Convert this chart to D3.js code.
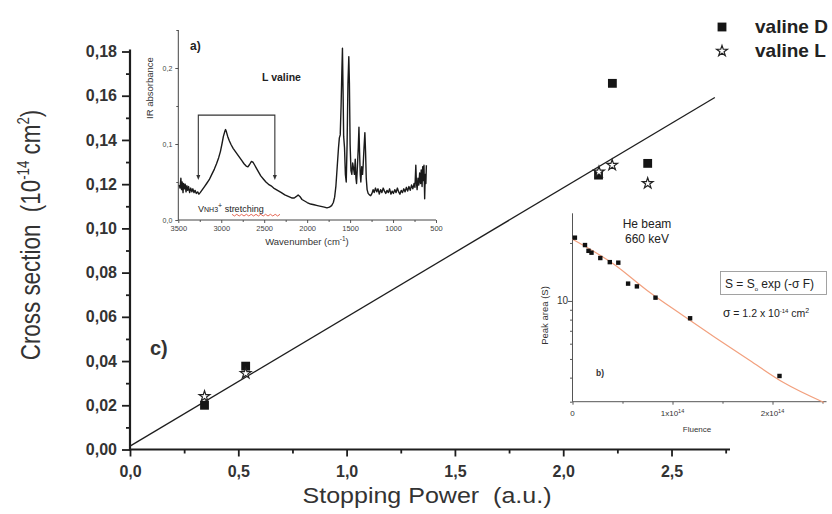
<!DOCTYPE html>
<html><head><meta charset="utf-8">
<script src="https://cdn.jsdelivr.net/npm/d3@7"></script>
<style>
html,body{margin:0;padding:0;background:#fff;}
svg{display:block;}
text{font-family:"Liberation Sans",Arial,Helvetica,sans-serif;}
</style></head><body>
<svg id="chart" width="832" height="514"></svg>
<script>
// ---------- panel c) : cross section vs stopping power ----------
const stoppingTicks = [0, 0.5, 1.0, 1.5, 2.0, 2.5];
const stoppingMinor = [0.25, 0.75, 1.25, 1.75, 2.25, 2.75];
const crossTicks = [0, 0.02, 0.04, 0.06, 0.08, 0.10, 0.12, 0.14, 0.16, 0.18];
const crossMinor = [0.01, 0.03, 0.05, 0.07, 0.09, 0.11, 0.13, 0.15, 0.17];
const legendLabels = ["valine D", "valine L"];
const valineD_power = [0.344, 0.534, 2.163, 2.227, 2.390];
const valineD_cross = [0.0200, 0.0377, 0.1241, 0.1656, 0.1294];
const valineL_power = [0.344, 0.534, 2.165, 2.226, 2.390];
const valineL_cross = [0.0240, 0.0344, 0.1256, 0.1286, 0.1204];
const linearFitPower = [0, 2.70];
const linearFitCross = [0.0015, 0.1592];

// ---------- inset a) : IR spectrum of L valine ----------
const irTicksX = [3500, 3000, 2500, 2000, 1500, 1000, 500];
const irMinorX = [3250, 2750, 2250, 1750, 1250, 750];
const irTicksY = [0, 0.1, 0.2];
const irMinorY = [0.05, 0.15, 0.25];
const irBracket = [3267, 2376];          // band limits of the NH3+ stretching region
const irSpectrum = [
 [3490,0.046],[3480,0.042],[3470,0.055],[3462,0.040],[3455,0.050],[3445,0.036],[3438,0.048],[3430,0.041],
 [3420,0.047],[3410,0.037],[3400,0.045],[3390,0.039],[3380,0.044],[3368,0.036],[3355,0.042],[3342,0.037],
 [3330,0.041],[3318,0.036],[3305,0.039],[3290,0.035],[3275,0.037],[3260,0.034],[3245,0.036],[3220,0.040],
 [3195,0.044],[3170,0.048],[3140,0.053],[3110,0.060],[3080,0.067],[3055,0.074],[3030,0.082],[3010,0.090],
 [2990,0.101],[2975,0.110],[2960,0.116],[2950,0.119],[2940,0.116],[2925,0.110],[2905,0.104],[2885,0.099],
 [2860,0.094],[2835,0.090],[2810,0.086],[2785,0.082],[2760,0.078],[2735,0.074],[2710,0.071],[2690,0.070],
 [2670,0.073],[2650,0.077],[2630,0.076],[2610,0.072],[2590,0.068],[2565,0.063],[2540,0.058],[2510,0.054],
 [2480,0.050],[2450,0.047],[2420,0.045],[2390,0.042],[2360,0.040],[2330,0.038],[2300,0.036],[2260,0.033],
 [2220,0.031],[2180,0.029],[2150,0.029],[2125,0.031],[2105,0.033],[2085,0.031],[2060,0.027],[2030,0.025],
 [2000,0.023],[1960,0.021],[1920,0.020],[1880,0.019],[1840,0.018],[1800,0.017],[1770,0.016],[1740,0.017],
 [1715,0.019],[1695,0.023],[1680,0.030],[1665,0.045],[1650,0.070],[1635,0.095],[1625,0.108],[1615,0.112],
 [1605,0.150],[1595,0.200],[1589,0.226],[1582,0.170],[1575,0.110],[1565,0.095],[1555,0.060],[1545,0.050],
 [1535,0.100],[1525,0.180],[1515,0.215],[1508,0.180],[1500,0.100],[1490,0.065],[1480,0.060],[1470,0.075],
 [1460,0.068],[1450,0.060],[1440,0.080],[1432,0.055],[1425,0.048],[1415,0.070],[1405,0.095],[1397,0.122],
 [1390,0.090],[1382,0.060],[1375,0.050],[1365,0.070],[1355,0.060],[1348,0.072],[1338,0.095],[1328,0.115],
 [1320,0.090],[1312,0.055],[1302,0.040],[1290,0.035],[1275,0.033],[1260,0.032],[1245,0.035],[1232,0.040],
 [1220,0.036],[1205,0.042],[1190,0.037],[1175,0.041],[1160,0.034],[1145,0.040],[1130,0.036],[1115,0.042],
 [1100,0.038],[1085,0.035],[1070,0.039],[1055,0.036],[1040,0.041],[1025,0.034],[1010,0.038],[995,0.035],
 [980,0.040],[965,0.036],[950,0.042],[935,0.037],[920,0.034],[905,0.039],[890,0.036],[875,0.041],
 [860,0.037],[845,0.043],[830,0.038],[815,0.044],[800,0.039],[785,0.046],[770,0.041],[755,0.048],
 [745,0.043],[735,0.072],[728,0.050],[720,0.040],[710,0.055],[700,0.046],[690,0.062],[680,0.048],
 [672,0.066],[662,0.044],[655,0.070],[648,0.052],[640,0.072],[632,0.028],[625,0.060],[618,0.048],[612,0.072]
];

// ---------- inset b) : peak area decay under 660 keV He beam ----------
const fluenceTicks = [0, 1, 2];            // in units of 1e14
const fluenceMinor = [0.5, 1.5, 2.5];
const peakAreaTicks = [3, 4, 5, 6, 7, 8, 9, 10, 20];
const fluenceData = [0.024, 0.125, 0.160, 0.190, 0.278, 0.373, 0.458, 0.556, 0.644, 0.830, 1.176, 2.070];
const peakAreaData = [21.3, 19.5, 18.2, 17.8, 16.7, 15.9, 15.8, 12.3, 11.9, 10.4, 8.13, 4.08];
const fitFluence = [0, 0.414, 0.75, 1.09, 1.43, 1.77, 2.11, 2.515];
const fitPeakArea = [20.9, 15.5, 11.3, 8.5, 6.45, 4.92, 3.77, 2.97];

const svg = d3.select("#chart");
const ink = "#1e1e1e", grey = "#333";
const comma = f => d => d3.format(f)(d).replace(".", ",");

// ================= main panel =================
const x = d3.scaleLinear().domain([0, 2.77]).range([130, 730]);
const y = d3.scaleLinear().domain([0, 0.18]).range([449.5, 51.5]);

function styleAxis(g, fs, weight, color) {
  g.select(".domain").remove();
  g.selectAll(".tick line").attr("stroke", ink).attr("stroke-width", 1.8);
  g.selectAll(".tick text").attr("fill", color).attr("font-size", fs).attr("font-weight", weight)
    .attr("font-family", '"Liberation Sans",Arial,sans-serif');
}

const gx = svg.append("g").attr("transform", `translate(0,${y(0)})`)
  .call(d3.axisBottom(x).tickValues(stoppingTicks).tickSize(7).tickPadding(9).tickFormat(comma(".1f")));
styleAxis(gx, 16, "bold", grey);
const gxm = svg.append("g").attr("transform", `translate(0,${y(0)})`)
  .call(d3.axisBottom(x).tickValues(stoppingMinor).tickSize(4).tickFormat(""));
styleAxis(gxm, 16, "bold", grey);

const gy = svg.append("g").attr("transform", `translate(${x(0)},0)`)
  .call(d3.axisLeft(y).tickValues(crossTicks).tickSize(8).tickPadding(5).tickFormat(comma(".2f")));
styleAxis(gy, 16, "bold", grey);
const gym = svg.append("g").attr("transform", `translate(${x(0)},0)`)
  .call(d3.axisLeft(y).tickValues(crossMinor).tickSize(4).tickFormat(""));
styleAxis(gym, 16, "bold", grey);

// axis lines (left and bottom only)
svg.append("line").attr("x1", x(0)).attr("x2", x(0)).attr("y1", y(0) + 1).attr("y2", y(0.18) - 2)
  .attr("stroke", ink).attr("stroke-width", 2.2);
svg.append("line").attr("x1", x(0) - 1).attr("x2", x(2.77)).attr("y1", y(0)).attr("y2", y(0))
  .attr("stroke", ink).attr("stroke-width", 2.2);

// linear fit
svg.append("path")
  .datum(linearFitPower.map((p, i) => [p, linearFitCross[i]]))
  .attr("d", d3.line().x(d => x(d[0])).y(d => y(d[1])))
  .attr("fill", "none").attr("stroke", ink).attr("stroke-width", 1.3);

const squareSym = d3.symbol().type(d3.symbolSquare).size(78);
const starSym = d3.symbol().type(d3.symbolStar).size(36);

svg.append("g").selectAll("path")
  .data(valineD_power.map((p, i) => [p, valineD_cross[i]]))
  .join("path").attr("d", squareSym)
  .attr("transform", d => `translate(${x(d[0])},${y(d[1])})`)
  .attr("fill", "#151515");
svg.append("g").selectAll("path")
  .data(valineL_power.map((p, i) => [p, valineL_cross[i]]))
  .join("path").attr("d", starSym)
  .attr("transform", d => `translate(${x(d[0])},${y(d[1])})`)
  .attr("fill", "#fff").attr("stroke", "#222").attr("stroke-width", 1.2);

// axis titles
svg.append("text").attr("x", 427).attr("y", 503).attr("text-anchor", "middle")
  .attr("font-size", 22).attr("fill", grey).attr("textLength", 249).attr("lengthAdjust", "spacingAndGlyphs")
  .text("Stopping Power\u00a0\u00a0(a.u.)");

const yt = svg.append("text")
  .attr("transform", "translate(40,235) rotate(-90) scale(0.83,1)")
  .attr("text-anchor", "middle").attr("font-size", 27).attr("fill", grey);
yt.append("tspan").text("Cross section\u00a0\u00a0(10");
yt.append("tspan").attr("dy", -11).attr("font-size", 16).text("-14");
yt.append("tspan").attr("dy", 11).text("\u00a0cm");
yt.append("tspan").attr("dy", -11).attr("font-size", 16).text("2");
yt.append("tspan").attr("dy", 11).text(")");

svg.append("text").attr("x", 150).attr("y", 355).attr("font-size", 20).attr("font-weight", "bold")
  .attr("fill", grey).text("c)");

// legend
const legend = svg.append("g");
legend.append("path").attr("d", squareSym).attr("transform", "translate(722,27)").attr("fill", "#151515");
legend.append("path").attr("d", starSym).attr("transform", "translate(722,51)")
  .attr("fill", "#fff").attr("stroke", "#222").attr("stroke-width", 1.2);
legend.selectAll("text").data(legendLabels).join("text")
  .attr("x", 755).attr("y", (d, i) => 33 + i * 24)
  .attr("font-size", 19).attr("font-weight", "bold").attr("fill", "#222").text(d => d);

// ================= inset a) =================
const ax = d3.scaleLinear().domain([3500, 500]).range([178.3, 436]);
const ay = d3.scaleLinear().domain([0, 0.25]).range([220, 30]);
const small = '"Liberation Sans",Arial,sans-serif';

function styleSmall(g, fs) {
  g.select(".domain").remove();
  g.selectAll(".tick line").attr("stroke", "#444").attr("stroke-width", 0.9);
  g.selectAll(".tick text").attr("fill", "#444").attr("font-size", fs).attr("font-family", small);
}
const iax = svg.append("g").attr("transform", `translate(0,${ay(0)})`)
  .call(d3.axisBottom(ax).tickValues(irTicksX).tickSize(3).tickPadding(3).tickFormat(d3.format("d")));
styleSmall(iax, 7.5);
styleSmall(svg.append("g").attr("transform", `translate(0,${ay(0)})`)
  .call(d3.axisBottom(ax).tickValues(irMinorX).tickSize(2).tickFormat("")), 7);
const iay = svg.append("g").attr("transform", `translate(${ax(3500)},0)`)
  .call(d3.axisLeft(ay).tickValues(irTicksY).tickSize(3).tickPadding(3).tickFormat(comma(".1f")));
styleSmall(iay, 7);
styleSmall(svg.append("g").attr("transform", `translate(${ax(3500)},0)`)
  .call(d3.axisLeft(ay).tickValues(irMinorY).tickSize(2).tickFormat("")), 7);
svg.append("line").attr("x1", ax(3500)).attr("x2", ax(3500)).attr("y1", ay(0)).attr("y2", ay(0.25))
  .attr("stroke", "#444").attr("stroke-width", 1);
svg.append("line").attr("x1", ax(3500)).attr("x2", ax(500)).attr("y1", ay(0)).attr("y2", ay(0))
  .attr("stroke", "#444").attr("stroke-width", 1);

svg.append("path").datum(irSpectrum)
  .attr("d", d3.line().x(d => ax(d[0])).y(d => ay(d[1])))
  .attr("fill", "none").attr("stroke", "#1a1a1a").attr("stroke-width", 1.4).attr("stroke-linejoin", "round");

// bracket marking the NH3+ stretching band
const bTop = ay(0.138), bBot = ay(0.058);
svg.append("path")
  .attr("d", `M${ax(irBracket[0])},${bBot}V${bTop}H${ax(irBracket[1])}V${bBot}`)
  .attr("fill", "none").attr("stroke", "#333").attr("stroke-width", 1.1);
irBracket.forEach(w => {
  const cx = ax(w);
  svg.append("path").attr("d", `M${cx - 2},${bBot - 1}L${cx + 2},${bBot - 1}L${cx},${bBot + 4}Z`).attr("fill", "#333");
});

svg.append("text").attr("x", 190).attr("y", 50).attr("font-size", 12).attr("font-weight", "bold")
  .attr("fill", "#222").text("a)");
svg.append("text").attr("x", 262).attr("y", 81).attr("font-size", 10.5).attr("font-weight", "bold")
  .attr("fill", "#222").text("L valine");
const vt = svg.append("text").attr("x", 198).attr("y", 212).attr("font-size", 9).attr("fill", "#222");
vt.append("tspan").text("V");
vt.append("tspan").attr("font-size", 7).text("NH3");
vt.append("tspan").attr("dy", -4).attr("font-size", 7).text("+");
vt.append("tspan").attr("dy", 4).text(" stretching");
// wavy underline below "stretching"
svg.append("path")
  .attr("d", d3.range(0, 21).map(i => `${i ? "L" : "M"}${232 + i * 2.4},${i % 2 ? 216 : 214.3}`).join(""))
  .attr("fill", "none").attr("stroke", "#e0452f").attr("stroke-width", 0.8);

svg.append("text").attr("transform", "translate(153,88) rotate(-90)").attr("text-anchor", "middle")
  .attr("font-size", 9.5).attr("fill", "#333").text("IR absorbance");
const wt = svg.append("text").attr("x", 307).attr("y", 245).attr("text-anchor", "middle")
  .attr("font-size", 9.5).attr("fill", "#333");
wt.append("tspan").text("Wavenumber (cm");
wt.append("tspan").attr("dy", -4).attr("font-size", 6.5).text("-1");
wt.append("tspan").attr("dy", 4).text(")");

// ================= inset b) =================
const bx = d3.scaleLinear().domain([0, 2.55]).range([572.5, 827.5]);
const by = d3.scaleLog().domain([3, 28.5]).range([401.7, 213.3]);

const ibx = svg.append("g").attr("transform", `translate(0,${by(3)})`)
  .call(d3.axisBottom(bx).tickValues(fluenceTicks).tickSize(3).tickPadding(5).tickFormat(""));
styleSmall(ibx, 8);
styleSmall(svg.append("g").attr("transform", `translate(0,${by(3)})`)
  .call(d3.axisBottom(bx).tickValues(fluenceMinor).tickSize(2).tickFormat("")), 8);
fluenceTicks.forEach(f => {
  const t = svg.append("text").attr("x", bx(f)).attr("y", 416).attr("text-anchor", "middle")
    .attr("font-size", 8).attr("fill", "#333");
  if (f === 0) { t.text("0"); return; }
  t.append("tspan").text(f + "x10");
  t.append("tspan").attr("dy", -3.5).attr("font-size", 5.5).text("14");
});
const iby = svg.append("g").attr("transform", `translate(${bx(0)},0)`)
  .call(d3.axisLeft(by).tickValues(peakAreaTicks).tickSize(2.5).tickFormat(""));
styleSmall(iby, 9);
iby.selectAll(".tick line").filter(d => d === 10).attr("x2", -4.5);
svg.append("text").attr("x", 568).attr("y", by(10) + 3.5).attr("text-anchor", "end")
  .attr("font-size", 10).attr("fill", "#333").text("10");
svg.append("line").attr("x1", bx(0)).attr("x2", bx(0)).attr("y1", by(3)).attr("y2", by(28.5))
  .attr("stroke", "#555").attr("stroke-width", 1);
svg.append("line").attr("x1", bx(0)).attr("x2", bx(2.54)).attr("y1", by(3)).attr("y2", by(3))
  .attr("stroke", "#555").attr("stroke-width", 1);

svg.append("path").datum(fitFluence.map((f, i) => [f, fitPeakArea[i]]))
  .attr("d", d3.line().curve(d3.curveMonotoneX).x(d => bx(d[0])).y(d => by(d[1])))
  .attr("fill", "none").attr("stroke", "#f2a07e").attr("stroke-width", 1.2);
svg.append("g").selectAll("rect")
  .data(fluenceData.map((f, i) => [f, peakAreaData[i]]))
  .join("rect").attr("x", d => bx(d[0]) - 2.2).attr("y", d => by(d[1]) - 2.2)
  .attr("width", 4.4).attr("height", 4.4).attr("fill", "#111");

svg.append("text").attr("x", 647).attr("y", 228).attr("text-anchor", "middle")
  .attr("font-size", 12).attr("fill", "#222").text("He beam");
svg.append("text").attr("x", 647).attr("y", 243).attr("text-anchor", "middle")
  .attr("font-size", 12).attr("fill", "#222").text("660 keV");
svg.append("text").attr("x", 596).attr("y", 376).attr("font-size", 8.5).attr("font-weight", "bold")
  .attr("fill", "#333").text("b)");
svg.append("text").attr("transform", `translate(548,${(by(3) + by(28.5)) / 2 + 8}) rotate(-90)`)
  .attr("text-anchor", "middle").attr("font-size", 9.5).attr("fill", "#333").text("Peak area (S)");
svg.append("text").attr("x", 697).attr("y", 432).attr("text-anchor", "middle")
  .attr("font-size", 8).attr("fill", "#333").text("Fluence");

svg.append("rect").attr("x", 720.5).attr("y", 271.5).attr("width", 106).attr("height", 23)
  .attr("fill", "#fff").attr("stroke", "#999").attr("stroke-width", 0.9);
const st = svg.append("text").attr("x", 725).attr("y", 288).attr("font-size", 12).attr("fill", "#222");
st.append("tspan").text("S = S");
st.append("tspan").attr("dy", 3).attr("font-size", 6).text("o");
st.append("tspan").attr("dy", -3).text(" exp (-\u03c3 F)");

const sg = svg.append("text").attr("x", 723).attr("y", 317).attr("font-size", 10.5).attr("fill", "#222")
  .attr("font-family", '"Liberation Serif","Times New Roman",serif');
sg.append("tspan").attr("font-size", 12).text("\u03c3");
sg.append("tspan").text(" = 1.2 x 10");
sg.append("tspan").attr("dy", -4).attr("font-size", 6).text("-14");
sg.append("tspan").attr("dy", 4).text(" cm");
sg.append("tspan").attr("dy", -4).attr("font-size", 7).text("2");
</script>
</body></html>
